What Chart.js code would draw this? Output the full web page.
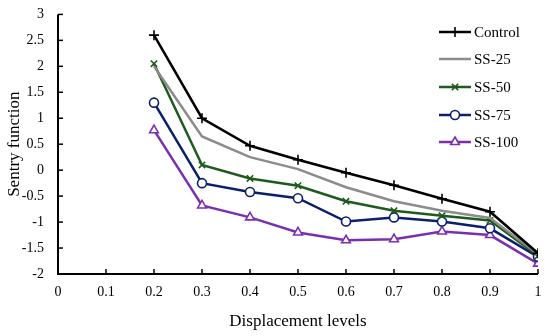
<!DOCTYPE html>
<html>
<head>
<meta charset="utf-8">
<script src="https://cdn.jsdelivr.net/npm/chart.js@4/dist/chart.umd.min.js"></script>
<style>
  body { margin: 0; background: #fff; }
  #wrap { width: 550px; height: 336px; }
</style>
</head>
<body>
<div id="wrap"><canvas id="line-chart"></canvas></div>
<script>
var levels = [0.2, 0.3, 0.4, 0.5, 0.6, 0.7, 0.8, 0.9, 1];
var control = [2.6, 1.0, 0.47, 0.2, -0.05, -0.29, -0.55, -0.8, -1.6];
var ss25 = [2.0, 0.65, 0.25, 0.02, -0.33, -0.6, -0.78, -0.92, -1.62];
var ss50 = [2.05, 0.1, -0.16, -0.3, -0.6, -0.78, -0.88, -0.97, -1.65];
var ss75 = [1.3, -0.25, -0.42, -0.54, -0.99, -0.91, -0.99, -1.12, -1.67];
var ss100 = [0.77, -0.68, -0.91, -1.2, -1.35, -1.33, -1.18, -1.25, -1.8];

var FONT = "'Liberation Serif', serif";

function pts(vals){
  return vals.map(function(v, i){ return {x: levels[i], y: v}; });
}

function series(label, vals, color, style, fill, radius){
  return {
    label: label,
    data: pts(vals),
    borderColor: color,
    backgroundColor: fill,
    pointBorderColor: color,
    pointBackgroundColor: fill,
    pointStyle: style,
    pointRadius: radius,
    pointBorderWidth: 1.6,
    borderWidth: 2.5,
    tension: 0
  };
}

// axis lines with inward ticks, plus the legend on the right
var axesAndLegend = {
  id: 'axesAndLegend',
  afterDraw: function(chart){
    var ctx = chart.ctx;
    var xs = chart.scales.x, ys = chart.scales.y;
    var left = xs.left, bottom = ys.bottom;
    ctx.save();
    ctx.strokeStyle = '#000';
    ctx.lineWidth = 2;
    ctx.beginPath();
    ctx.moveTo(left, ys.top);
    ctx.lineTo(left, bottom);
    ctx.lineTo(xs.right, bottom);
    ctx.stroke();
    ctx.lineWidth = 1.5;
    xs.ticks.forEach(function(t){
      var px = xs.getPixelForValue(t.value);
      ctx.beginPath(); ctx.moveTo(px, bottom); ctx.lineTo(px, bottom - 5); ctx.stroke();
    });
    ys.ticks.forEach(function(t){
      var py = ys.getPixelForValue(t.value);
      ctx.beginPath(); ctx.moveTo(left, py); ctx.lineTo(left + 5, py); ctx.stroke();
    });

    var rowY = [32, 59, 87, 115, 142];
    ctx.font = '15px ' + FONT;
    ctx.textBaseline = 'middle';
    ctx.textAlign = 'left';
    chart.data.datasets.forEach(function(ds, i){
      var y = rowY[i];
      ctx.strokeStyle = ds.borderColor;
      ctx.lineWidth = 2.5;
      ctx.beginPath(); ctx.moveTo(439, y); ctx.lineTo(471, y); ctx.stroke();
      if (ds.pointRadius > 0) {
        ctx.fillStyle = ds.pointBackgroundColor;
        ctx.lineWidth = ds.pointBorderWidth;
        Chart.helpers.drawPoint(ctx, {pointStyle: ds.pointStyle, radius: ds.pointRadius, borderWidth: ds.pointBorderWidth, rotation: 0}, 455, y);
      }
      ctx.fillStyle = '#000';
      ctx.fillText(ds.label, 474, y + 1);
    });
    ctx.restore();
  }
};

new Chart(document.getElementById('line-chart'), {
  type: 'line',
  data: {
    datasets: [
      series('Control', control, '#000000', 'cross', '#000000', 5),
      series('SS-25', ss25, '#8c8c8c', 'line', '#8c8c8c', 0),
      series('SS-50', ss50, '#1e5c1e', 'crossRot', '#1e5c1e', 4.5),
      series('SS-75', ss75, '#0c1f6b', 'circle', '#ffffff', 4.5),
      series('SS-100', ss100, '#7b2fb0', 'triangle', '#ffffff', 5)
    ]
  },
  plugins: [axesAndLegend],
  options: {
    responsive: true,
    maintainAspectRatio: false,
    animation: false,
    layout: { padding: { top: 14, right: 12, left: 0, bottom: 0 } },
    plugins: { legend: { display: false }, tooltip: { enabled: false } },
    scales: {
      x: {
        type: 'linear',
        min: 0, max: 1,
        ticks: { stepSize: 0.1, color: '#000', padding: 2, maxRotation: 0,
                 font: { family: FONT, size: 14 },
                 callback: function(v){ return String(Math.round(v * 10) / 10); } },
        grid: { display: false },
        border: { display: false },
        title: { display: true, text: 'Displacement levels', color: '#000',
                 font: { family: FONT, size: 17 }, padding: { top: 6 } },
        afterFit: function(s){ s.height = 62; }
      },
      y: {
        min: -2, max: 3,
        ticks: { stepSize: 0.5, color: '#000', padding: 6,
                 font: { family: FONT, size: 14 },
                 callback: function(v){ return String(Math.round(v * 10) / 10); } },
        grid: { display: false },
        border: { display: false },
        title: { display: true, text: 'Sentry function', color: '#000',
                 font: { family: FONT, size: 17 }, padding: { top: 4, bottom: 0 } },
        afterFit: function(s){ s.width = 58; }
      }
    }
  }
});
</script>
</body>
</html>
